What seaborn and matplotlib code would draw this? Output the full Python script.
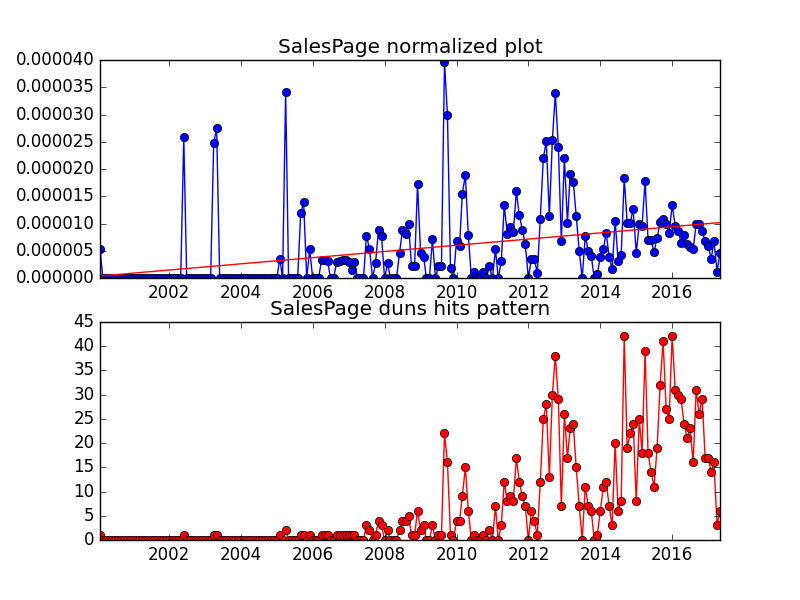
import numpy as np
import pandas as pd
import matplotlib
matplotlib.use('Agg')
import matplotlib.pyplot as plt
import matplotlib.dates as mdates
from matplotlib.ticker import FormatStrFormatter
import seaborn as sns

# monthly hits for SalesPage, 2000-01 .. 2017-04 (one row per year)
hits = [
    1, 0, 0, 0, 0, 0, 0, 0, 0, 0, 0, 0,
    0, 0, 0, 0, 0, 0, 0, 0, 0, 0, 0, 0,
    0, 0, 0, 0, 1, 0, 0, 0, 0, 0, 0, 0,
    0, 0, 1, 1, 0, 0, 0, 0, 0, 0, 0, 0,
    0, 0, 0, 0, 0, 0, 0, 0, 0, 0, 0, 0,
    1, 0, 2, 0, 0, 0, 0, 1, 1, 0, 1, 0,
    0, 0, 1, 1, 1, 0, 0, 1, 1, 1, 1, 1,
    1, 1, 0, 0, 0, 3, 2, 0, 1, 4, 3, 0,
    2, 0, 0, 0, 2, 4, 4, 5, 1, 1, 6, 2,
    3, 0, 0, 3, 0, 1, 1, 22, 16, 1, 0, 4,
    4, 9, 15, 6, 0, 1, 0, 0, 1, 0, 2, 0,
    7, 0, 3, 12, 8, 9, 8, 17, 12, 9, 7, 0,
    6, 4, 1, 12, 25, 28, 13, 30, 38, 29, 7, 26,
    17, 23, 24, 15, 7, 0, 11, 7, 6, 0, 1, 6,
    11, 12, 7, 3, 20, 6, 8, 42, 19, 22, 24, 8,
    25, 18, 39, 18, 14, 11, 19, 32, 41, 27, 25, 42,
    31, 30, 29, 24, 21, 23, 16, 31, 26, 29, 17, 17,
    14, 16, 3, 6,
]

# normalized hits, in units of 1e-6
norm_e6 = [
    5.4, 0, 0, 0, 0, 0, 0, 0, 0, 0, 0, 0,
    0, 0, 0, 0, 0, 0, 0, 0, 0, 0, 0, 0,
    0, 0, 0, 0, 25.8, 0, 0, 0, 0, 0, 0, 0,
    0, 0, 24.7, 27.5, 0, 0, 0, 0, 0, 0, 0, 0,
    0, 0, 0, 0, 0, 0, 0, 0, 0, 0, 0, 0,
    3.6, 0, 34.1, 0, 0, 0, 0, 11.9, 13.9, 0, 5.3, 0,
    0, 0, 3.3, 3.4, 3.2, 0, 0, 2.9, 3.2, 3.3, 3.4, 2.9,
    1.5, 2.9, 0, 0, 0, 7.8, 5.4, 0, 2.7, 8.9, 7.8, 0,
    2.7, 0, 0, 0, 4.6, 8.8, 8.1, 9.9, 2.2, 2.2, 17.2, 4.6,
    3.9, 0, 0, 7.1, 0, 2.2, 2.2, 39.6, 29.9, 1.8, 0, 6.8,
    5.9, 15.5, 18.9, 7.9, 0, 1.2, 0, 0, 1.2, 0, 2.2, 0,
    5.3, 0, 3.1, 13.4, 8.1, 9.3, 8.4, 15.9, 11.5, 8.9, 6.2, 0,
    3.6, 3.6, 1.0, 10.9, 22.0, 25.1, 11.4, 25.3, 33.9, 24.0, 6.8, 22.0,
    10.2, 19.1, 17.7, 11.4, 5.0, 0, 7.7, 5.0, 4.0, 0, 0.7, 3.9,
    5.3, 8.3, 3.9, 1.7, 10.5, 3.1, 4.2, 18.3, 10.2, 10.2, 12.6, 4.6,
    10.0, 9.5, 17.8, 7.0, 7.0, 4.8, 7.4, 10.3, 10.9, 10.0, 8.2, 13.4,
    9.6, 8.7, 6.5, 8.0, 6.2, 5.7, 5.3, 9.9, 10.0, 8.6, 6.8, 5.9,
    3.6, 6.8, 1.2, 4.7,
]

dates = pd.date_range('2000-01-31', periods=len(hits), freq='ME')
df = pd.DataFrame({'date': dates, 'hits': hits,
                   'norm': np.array(norm_e6) * 1e-6})

# linear trend of the normalized series
idx = np.arange(len(df))
coef = np.polyfit(idx, df['norm'], 1)
df['trend'] = np.polyval(coef, idx)

plt.style.use('classic')
fig, (ax1, ax2) = plt.subplots(2, 1, figsize=(8, 6))

mk = dict(marker='o', markersize=6, markeredgecolor='k',
          markeredgewidth=0.5, linewidth=1, estimator=None)

sns.lineplot(data=df, x='date', y='norm', color='b', ax=ax1, **mk)
sns.lineplot(data=df, x='date', y='trend', color='r', ax=ax1,
             linewidth=1, estimator=None)
ax1.set_title('SalesPage normalized plot')
ax1.set_ylim(0, 0.00004)
ax1.yaxis.set_major_formatter(FormatStrFormatter('%.6f'))

sns.lineplot(data=df, x='date', y='hits', color='r', ax=ax2, **mk)
ax2.set_title('SalesPage duns hits pattern')
ax2.set_ylim(0, 45)

for ax in (ax1, ax2):
    ax.set_xlim(df['date'].iloc[0], df['date'].iloc[-1])
    ax.xaxis.set_major_locator(mdates.YearLocator(2))
    ax.xaxis.set_major_formatter(mdates.DateFormatter('%Y'))
    ax.set_xlabel('')
    ax.set_ylabel('')

fig.savefig('out.png', dpi=100, facecolor='white')
